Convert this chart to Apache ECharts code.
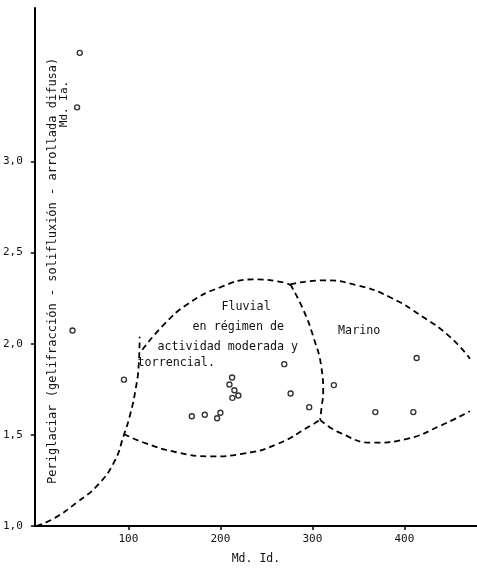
<!DOCTYPE html>
<html><head><meta charset="utf-8">
<script src="https://cdn.jsdelivr.net/npm/echarts@6/dist/echarts.min.js"></script>
<style>html,body{margin:0;padding:0;background:#fff}#c{width:477px;height:570px}</style>
</head><body><div id="c"></div>
<script>
// Sample points: [Md. Id., Md. Ia.]
const samplePoints = [
  [47.2, 3.596], [44.3, 3.297], [39.3, 2.073], [95.2, 1.803],
  [212.8, 1.815], [209.9, 1.776], [215.3, 1.745], [219.6, 1.716], [213.1, 1.703],
  [269.5, 1.888], [276.4, 1.727], [296.6, 1.652],
  [169.0, 1.602], [183.1, 1.610], [200.1, 1.621], [196.5, 1.591],
  [323.4, 1.773], [413.4, 1.922], [368.5, 1.625], [409.8, 1.625]
];
// Dashed field boundaries
const periglacialBoundary = [
  [0, 1.0], [19.3, 1.042], [44.7, 1.132], [66.4, 1.223], [84.4, 1.349], [94.9, 1.495],
  [102.5, 1.621], [107.9, 1.75], [111.2, 1.875], [112.3, 2.038]
];
const fluvialUpper = [
  [115.2, 1.967], [138.3, 2.103], [164.3, 2.217], [200.1, 2.310], [235.9, 2.353], [268.4, 2.337], [276, 2.322]
];
const fluvialLower = [
  [95.2, 1.505], [116.6, 1.458], [153.1, 1.404], [189.3, 1.382], [225.1, 1.397], [261.6, 1.449], [297.7, 1.549], [308.5, 1.582]
];
const fluvialRight = [
  [276, 2.326], [290.1, 2.187], [302.1, 2.022], [309.7, 1.875], [311.8, 1.728], [310.2, 1.658], [308.5, 1.582]
];
const marinoUpper = [
  [276, 2.326], [311.8, 2.348], [348.7, 2.321], [384.5, 2.255], [420.3, 2.147], [449.6, 2.038], [471.3, 1.918]
];
const marinoLower = [
  [308.5, 1.582], [330.2, 1.511], [366, 1.457], [402.9, 1.478], [438.7, 1.549], [471.3, 1.63]
];
const xTicks = [100, 200, 300, 400];
const yTicks = [1.0, 1.5, 2.0, 2.5, 3.0];
const boundaries = [periglacialBoundary, fluvialUpper, fluvialLower, fluvialRight, marinoUpper, marinoLower];

const FONT = '"DejaVu Sans Mono", monospace';
const chart = echarts.init(document.getElementById('c'), null, {renderer: 'canvas'});
const lineSeries = boundaries.map(d => ({
  type: 'line', data: d, smooth: true, showSymbol: false, silent: true,
  lineStyle: {color: '#000', width: 1.8, type: [6, 4]}, z: 2
}));
chart.setOption({
  animation: false,
  backgroundColor: '#fff',
  grid: {left: 34, right: 0, top: 8, bottom: 39, containLabel: false},
  xAxis: {
    type: 'value', min: -1.6, max: 479,
    axisLine: {onZero: false, lineStyle: {color: '#000', width: 2}},
    axisTick: {show: true, length: 4, customValues: xTicks, lineStyle: {color: '#000', width: 1.5}},
    axisLabel: {customValues: xTicks, color: '#111', fontFamily: FONT, fontSize: 11, margin: 8},
    splitLine: {show: false},
    name: 'Md. Id.', nameLocation: 'middle', nameGap: 27,
    nameTextStyle: {color: '#111', fontFamily: FONT, fontSize: 11.5}
  },
  yAxis: {
    type: 'value', min: 1.0, max: 3.842,
    axisLine: {onZero: false, lineStyle: {color: '#000', width: 2}},
    axisTick: {show: true, length: 4, customValues: yTicks, lineStyle: {color: '#000', width: 1.5}},
    axisLabel: {customValues: yTicks, color: '#111', fontFamily: FONT, fontSize: 11, margin: 12,
      formatter: v => v.toFixed(1).replace('.', ',')},
    splitLine: {show: false}
  },
  series: [...lineSeries, {
    type: 'scatter', data: samplePoints, symbol: 'circle', symbolSize: 5, z: 3,
    itemStyle: {color: '#fff', borderColor: '#000', borderWidth: 1.4}
  }]
});

// Text annotations, anchored in data coordinates
const notes = [
  {text: 'Fluvial', at: [201.2, 2.2]},
  {text: 'en régimen de', at: [169.8, 2.09]},
  {text: 'actividad moderada y', at: [131.6, 1.98]},
  {text: 'torrencial.', at: [110, 1.895]},
  {text: 'Marino', at: [328, 2.07]}
];
const graphic = notes.map(n => {
  const p = chart.convertToPixel({gridIndex: 0}, n.at);
  return {type: 'text', x: p[0], y: p[1], style: {text: n.text, fill: '#111', font: '11.7px ' + FONT, textAlign: 'left', textVerticalAlign: 'middle'}};
});
const pPeri = chart.convertToPixel({gridIndex: 0}, [18.5, 2.40]);
graphic.push({type: 'text', x: pPeri[0], y: pPeri[1], rotation: Math.PI / 2,
  style: {text: 'Periglaciar (gelifracción - solifluxión - arrollada difusa)', fill: '#111', font: '12px ' + FONT, textAlign: 'center', textVerticalAlign: 'middle'}});
const pName = chart.convertToPixel({gridIndex: 0}, [30, 3.315]);
graphic.push({type: 'text', x: pName[0], y: pName[1], rotation: Math.PI / 2,
  style: {text: 'Md. Ia.', fill: '#111', font: '11px ' + FONT, textAlign: 'center', textVerticalAlign: 'middle'}});
chart.setOption({graphic: graphic});
</script></body></html>
